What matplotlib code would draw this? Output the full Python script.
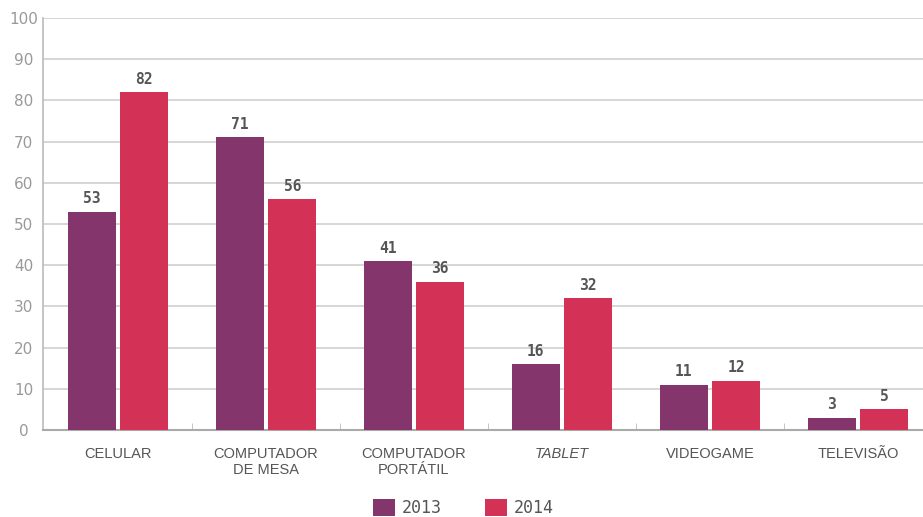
import matplotlib.pyplot as plt
import numpy as np

categories = ["CELULAR", "COMPUTADOR\nDE MESA", "COMPUTADOR\nPORTÁTIL", "TABLET", "VIDEOGAME", "TELEVISÃO"]
years = ["2013", "2014"]
v2013 = [53, 71, 41, 16, 11, 3]
v2014 = [82, 56, 36, 32, 12, 5]
colors = ["#84356B", "#D43157"]

fig = plt.figure(figsize=(9.23, 5.17), dpi=100)
ax = fig.add_axes([43 / 923, 1 - 430 / 517, 880 / 923, 412 / 517])

x = np.arange(len(categories))
w = 0.325
off = 0.178
b1 = ax.bar(x - off, v2013, w, color=colors[0], label=years[0], zorder=3)
b2 = ax.bar(x + off, v2014, w, color=colors[1], label=years[1], zorder=3)

# rótulos de valor
for bars in (b1, b2):
    for r in bars:
        ax.text(r.get_x() + r.get_width() / 2, r.get_height() + 1.3, str(int(r.get_height())),
                ha="center", va="bottom", fontsize=10.5, fontweight="bold",
                color="#555555", family="DejaVu Sans Mono")

ax.set_xlim(-0.507, 5.44)
ax.set_ylim(0, 100)
ax.set_yticks(range(0, 101, 10))
ax.yaxis.grid(True, color="#cfcfcf", linewidth=1.2, zorder=0)
ax.tick_params(axis="y", length=0, labelsize=11, labelcolor="#999999", pad=14)
for t in ax.get_yticklabels():
    t.set_horizontalalignment("center")

ax.set_xticks(x)
ax.set_xticklabels(categories, fontsize=10.5, color="#555555", family="Liberation Sans")
ax.get_xticklabels()[3].set_style("italic")
ax.tick_params(axis="x", length=0, pad=12)
ax.set_xticks(x[:-1] + 0.5, minor=True)
ax.tick_params(axis="x", which="minor", direction="in", length=5, color="#bbbbbb")

for s in ["top", "right"]:
    ax.spines[s].set_visible(False)
ax.spines["left"].set_color("#bbbbbb")
ax.spines["left"].set_linewidth(1.2)
ax.spines["bottom"].set_color("#aaaaaa")
ax.spines["bottom"].set_linewidth(1.5)

fig.legend(handles=[b1, b2], loc="lower center", bbox_to_anchor=(0.502, -0.02),
           ncol=2, frameon=False, fontsize=12, handlelength=1.3, handleheight=1.2,
           columnspacing=2.6, handletextpad=0.4, labelcolor="#555555", borderpad=0.1,
           prop={"family": "DejaVu Sans Mono", "size": 12})

fig.savefig("out.png", dpi=100)
